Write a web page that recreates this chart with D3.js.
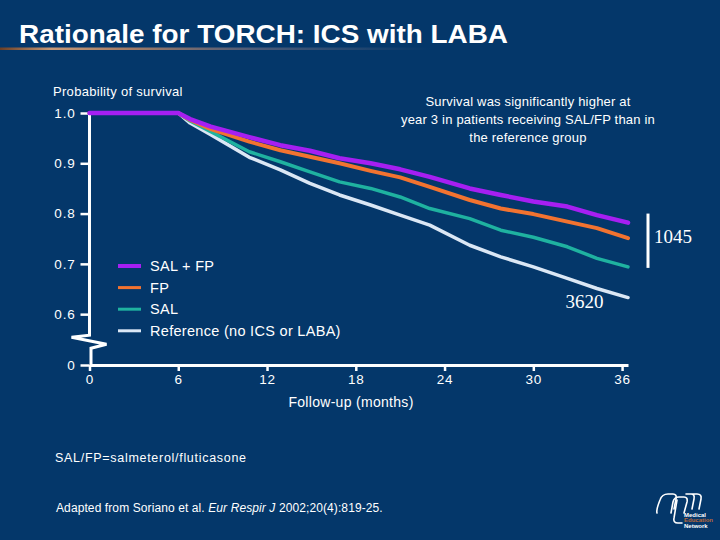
<!DOCTYPE html>
<html><head><meta charset="utf-8">
<script src="https://cdn.jsdelivr.net/npm/d3@7"></script>
<style>html,body{margin:0;padding:0;background:#04376a;} svg{display:block}</style>
</head><body>
<script>
// ---- data ----
const months    = [0, 6, 6.8, 8.2, 10.8, 12.9, 14.9, 16.9, 19.0, 21.0, 23.0, 25.7, 27.8, 30.0, 32.3, 34.3, 36.4];
const salFp     = [1, 1, 0.988, 0.973, 0.952, 0.936, 0.925, 0.910, 0.900, 0.888, 0.873, 0.850, 0.837, 0.824, 0.814, 0.797, 0.782];
const fp        = [1, 1, 0.986, 0.968, 0.943, 0.926, 0.913, 0.900, 0.885, 0.872, 0.853, 0.827, 0.810, 0.799, 0.784, 0.771, 0.751];
const sal       = [1, 1, 0.984, 0.963, 0.923, 0.903, 0.883, 0.863, 0.850, 0.833, 0.810, 0.790, 0.767, 0.753, 0.734, 0.711, 0.694];
const reference = [1, 1, 0.980, 0.957, 0.912, 0.887, 0.860, 0.837, 0.817, 0.797, 0.777, 0.737, 0.714, 0.694, 0.671, 0.651, 0.633];
const seriesNames  = ["SAL + FP", "FP", "SAL", "Reference (no ICS or LABA)"];
const seriesColors = ["#a61ff2", "#f27330", "#1fb2a0", "#dbe7f5"];
const seriesWidths = [4.5, 4, 3.5, 3.5];
const yTicks = [0, 0.6, 0.7, 0.8, 0.9, 1.0];
const yTickLabels = ["0", "0.6", "0.7", "0.8", "0.9", "1.0"];
const xTicks = [0, 6, 12, 18, 24, 30, 36];
const endCounts = ["1045", "3620"];
const titleText = "Rationale for TORCH: ICS with LABA";
const yAxisTitle = "Probability of survival";
const xAxisTitle = "Follow-up (months)";
const noteLines = ["Survival was significantly higher at", "year 3 in patients receiving SAL/FP than in", "the reference group"];
const footnote = "SAL/FP=salmeterol/fluticasone";

const W = 720, H = 540, BG = "#04376a";
const svg = d3.select("body").append("svg").attr("width", W).attr("height", H)
  .style("font-family", "'Liberation Sans', Arial, sans-serif");
svg.append("rect").attr("width", W).attr("height", H).attr("fill", BG);

// title + underline
const defs = svg.append("defs");
const grad = defs.append("linearGradient").attr("id", "ul").attr("x1", 0).attr("x2", 1);
[[0, "#6b3f26"], [0.12, "#c89a78"], [0.3, "#a27b66"], [0.6, "#4a5a78"], [1, BG]].forEach(s =>
  grad.append("stop").attr("offset", s[0]).attr("stop-color", s[1]));
svg.append("rect").attr("x", 0).attr("y", 47.5).attr("width", 430).attr("height", 2.5).attr("fill", "url(#ul)");
svg.append("text").attr("x", 19).attr("y", 43).attr("fill", "#fff")
  .attr("font-size", 26).attr("font-weight", "bold")
  .attr("textLength", 489).attr("lengthAdjust", "spacingAndGlyphs").text(titleText);

// scales
const x = d3.scaleLinear().domain([0, 36.4]).range([89.5, 628]);
const y = d3.scaleLinear().domain([0, 0.55, 1.0]).range([365, 339.3, 113]);

// y axis ticks (domain drawn manually with break)
const yAxis = d3.axisLeft(y).tickValues(yTicks)
  .tickFormat((d, i) => yTickLabels[i]).tickSize(9).tickSizeOuter(0).tickPadding(5);
const gy = svg.append("g").attr("transform", `translate(${x(0)},0)`).call(yAxis);
gy.select(".domain").remove();
gy.selectAll(".tick line").attr("stroke", "#fff").attr("stroke-width", 2.5);
gy.selectAll(".tick text").attr("fill", "#fff").attr("font-size", 13.5)
  .attr("font-family", "'Liberation Sans', Arial, sans-serif").style("letter-spacing", "0.8px");

// y axis line with break
const yb = y(0.558), x0 = x(0);
const brk = [[x0, y(1.0)], [x0, yb], [x0 - 18, yb + 2], [x0 + 17, yb + 9], [x0 + 1.5, yb + 13], [x0 + 1.5, y(0)]];
svg.append("path").attr("d", d3.line()(brk)).attr("fill", "none")
  .attr("stroke", "#fff").attr("stroke-width", 3).attr("stroke-linejoin", "miter");

// x axis
const xAxis = d3.axisBottom(x).tickValues(xTicks).tickSize(6).tickSizeOuter(0).tickPadding(3);
const gx = svg.append("g").attr("transform", `translate(0,${y(0)})`).call(xAxis);
gx.select(".domain").attr("stroke", "#fff").attr("stroke-width", 3);
gx.selectAll(".tick line").attr("stroke", "#fff").attr("stroke-width", 2.5);
gx.selectAll(".tick text").attr("fill", "#fff").attr("font-size", 13.5)
  .attr("font-family", "'Liberation Sans', Arial, sans-serif").style("letter-spacing", "0.8px");

// axis titles
svg.append("text").attr("x", 53).attr("y", 95.5).attr("fill", "#fff").attr("font-size", 13)
  .style("letter-spacing", "0.3px").text(yAxisTitle);
svg.append("text").attr("x", 351).attr("y", 407).attr("text-anchor", "middle").attr("fill", "#fff")
  .attr("font-size", 14).style("letter-spacing", "0.3px").text(xAxisTitle);

// curves
const series = [salFp, fp, sal, reference];
const line = d3.line().x((d, i) => x(months[i])).y(d => y(d));
for (let k = series.length - 1; k >= 0; k--) {
  svg.append("path").datum(series[k]).attr("d", line).attr("fill", "none")
    .attr("stroke", seriesColors[k]).attr("stroke-width", seriesWidths[k])
    .attr("stroke-linejoin", "round").attr("stroke-linecap", "round");
}

// legend
const lg = svg.append("g");
seriesNames.forEach((nm, i) => {
  const cy = 266 + i * 21.6;
  lg.append("line").attr("x1", 118).attr("x2", 141).attr("y1", cy).attr("y2", cy)
    .attr("stroke", seriesColors[i]).attr("stroke-width", i === 0 ? 4 : 3);
  lg.append("text").attr("x", 150).attr("y", cy + 5).attr("fill", "#fff").attr("font-size", 14.5)
    .style("letter-spacing", "0.3px").text(nm);
});

// annotation
noteLines.forEach((t, i) => {
  svg.append("text").attr("x", 528).attr("y", 106 + i * 18).attr("text-anchor", "middle")
    .attr("fill", "#fff").attr("font-size", 13).style("letter-spacing", "0.2px").text(t);
});

// end counts
svg.append("rect").attr("x", x(36.4) + 18.5).attr("y", y(0.8)).attr("width", 3)
  .attr("height", y(0.692) - y(0.8)).attr("fill", "#fff");
svg.append("text").attr("x", x(36.4) + 26).attr("y", 243).attr("fill", "#fff")
  .attr("font-family", "'Liberation Serif', 'Times New Roman', serif").attr("font-size", 19).text(endCounts[0]);
svg.append("text").attr("x", 584.5).attr("y", 308).attr("text-anchor", "middle").attr("fill", "#fff")
  .attr("font-family", "'Liberation Serif', 'Times New Roman', serif").attr("font-size", 19).text(endCounts[1]);

// footnotes
svg.append("text").attr("x", 55).attr("y", 461.5).attr("fill", "#fff").attr("font-size", 12.5)
  .attr("textLength", 191).attr("lengthAdjust", "spacing").text(footnote);
const src = svg.append("text").attr("x", 56).attr("y", 512).attr("fill", "#fff").attr("font-size", 12)
  .style("letter-spacing", "0.1px");
src.append("tspan").text("Adapted from Soriano et al. ");
src.append("tspan").attr("font-style", "italic").text("Eur Respir J");
src.append("tspan").text(" 2002;20(4):819-25.");

// logo
const logo = svg.append("g").attr("fill", "none").attr("stroke", "#fff").attr("stroke-width", 1.6)
  .attr("stroke-linecap", "round").attr("stroke-linejoin", "round");
logo.append("path").attr("d", "M657,513 Q656,510 660,500 Q662,494 668,494 L673,494 Q677,494 676,499 L674,509");
logo.append("path").attr("d", "M671,513 L673,502 Q674,497 679,497 L684,497 Q688,497 687,502 L684,513");
logo.append("path").attr("d", "M677,500 L674,518 Q673,523 678,523 L682,523");
logo.append("path").attr("d", "M686,494 L691,494 Q695,494 694,499 L692,509 M691,494 L697,494 Q702,494 701,499 L699,509");
const lt = svg.append("g").attr("font-size", 6).attr("font-weight", "bold").attr("font-family", "'Liberation Sans', Arial, sans-serif");
lt.append("text").attr("x", 684).attr("y", 516.5).attr("fill", "#fff").text("Medical");
lt.append("text").attr("x", 684).attr("y", 521.5).attr("fill", "#b8683a").text("Education");
lt.append("text").attr("x", 684).attr("y", 527.5).attr("fill", "#fff").text("Network");
</script>
</body></html>
